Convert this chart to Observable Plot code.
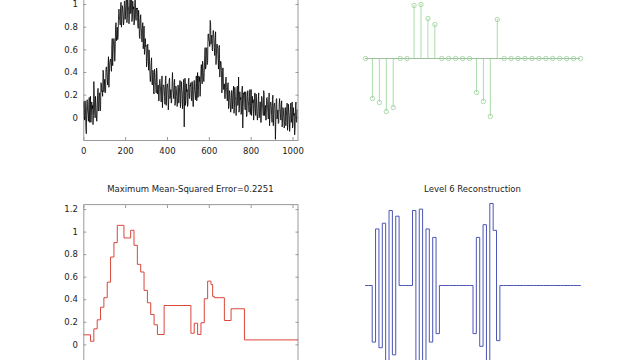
<!DOCTYPE html>
<html>
<head>
<meta charset="utf-8">
<script src="https://cdn.jsdelivr.net/npm/d3@7"></script>
<script src="https://cdn.jsdelivr.net/npm/@observablehq/plot@0.6"></script>
<style>
  html, body { margin: 0; padding: 0; background: #fff; }
  #fig { position: relative; width: 640px; height: 360px; overflow: hidden; background: #fff; font-family: "DejaVu Sans", sans-serif; }
  #fig svg { position: absolute; }
  .title { position: absolute; font-size: 8.5px; line-height: 12px; color: #222; text-align: center; white-space: nowrap; }
</style>
</head>
<body>
<div id="fig"></div>
<script>
// ---- data ----
// noisy signal, one sample every 2 points of 0..1023
const signal = [
  0.14, 0.01, -0.02, 0.15, 0.07, -0.08, -0.14, 0.10, 0.16, 0.07, 0.03, -0.03, 0.12, 0.18, -0.04, 0.03,
  0.19, -0.04, 0.02, 0.14, 0.08, 0.11, -0.06, 0.02, 0.32, 0.19, 0.06, 0.00, 0.19, 0.12, 0.02, -0.03,
  0.06, 0.20, 0.26, 0.06, 0.07, 0.22, 0.22, 0.06, 0.07, 0.31, 0.30, 0.23, 0.24, 0.19, 0.42, 0.40,
  0.23, 0.29, 0.34, 0.22, 0.23, 0.43, 0.45, 0.40, 0.34, 0.29, 0.46, 0.54, 0.27, 0.38, 0.49, 0.51,
  0.52, 0.46, 0.41, 0.64, 0.70, 0.46, 0.57, 0.67, 0.70, 0.66, 0.50, 0.60, 0.80, 0.84, 0.68, 0.73,
  0.80, 0.69, 0.72, 0.89, 0.96, 0.89, 0.86, 0.82, 0.98, 1.02, 0.80, 0.84, 0.99, 0.97, 0.91, 0.82,
  0.86, 1.03, 1.03, 0.87, 0.95, 1.01, 1.18, 0.84, 0.88, 1.06, 0.99, 0.96, 0.83, 0.90, 1.06, 1.09,
  0.92, 0.95, 1.24, 0.85, 0.88, 1.03, 0.96, 0.98, 0.82, 0.84, 1.03, 1.06, 0.89, 0.86, 0.97, 0.96,
  0.97, 0.83, 0.79, 0.95, 0.87, 0.71, 0.70, 0.87, 0.91, 0.80, 0.75, 0.67, 0.80, 0.84, 0.61, 0.66,
  0.81, 0.56, 0.60, 0.70, 0.63, 0.64, 0.45, 0.51, 0.63, 0.65, 0.50, 0.42, 0.60, 0.51, 0.39, 0.32,
  0.38, 0.49, 0.53, 0.30, 0.29, 0.42, 0.40, 0.22, 0.21, 0.43, 0.40, 0.31, 0.29, 0.22, 0.44, 0.40,
  0.21, 0.25, 0.29, 0.15, 0.15, 0.33, 0.34, 0.28, 0.21, 0.14, 0.30, 0.37, 0.09, 0.19, 0.29, 0.29,
  0.27, 0.19, 0.12, 0.33, 0.37, 0.11, 0.20, 0.29, 0.30, 0.25, 0.07, 0.15, 0.33, 0.35, 0.17, 0.20,
  0.25, 0.13, 0.14, 0.30, 0.40, 0.27, 0.22, 0.17, 0.31, 0.34, 0.11, 0.14, 0.28, 0.26, 0.19, 0.10,
  0.12, 0.29, 0.28, 0.13, 0.20, 0.27, 0.33, 0.09, 0.14, 0.32, 0.25, 0.22, 0.08, 0.15, 0.31, 0.34,
  -0.08, 0.20, 0.35, 0.11, 0.15, 0.30, 0.23, 0.25, 0.10, 0.12, 0.32, 0.35, 0.19, 0.17, 0.29, 0.28,
  0.31, 0.18, 0.15, 0.32, 0.25, 0.10, 0.10, 0.28, 0.33, 0.24, 0.21, 0.16, 0.30, 0.37, 0.15, 0.23,
  0.40, 0.18, 0.24, 0.37, 0.32, 0.36, 0.19, 0.28, 0.42, 0.47, 0.34, 0.30, 0.50, 0.45, 0.35, 0.32,
  0.40, 0.55, 0.62, 0.43, 0.45, 0.61, 0.62, 0.47, 0.49, 0.74, 0.74, 0.68, 0.68, 0.63, 0.86, 0.84,
  0.65, 0.70, 0.73, 0.60, 0.59, 0.77, 0.77, 0.70, 0.62, 0.55, 0.70, 0.76, 0.47, 0.56, 0.65, 0.65,
  0.61, 0.51, 0.43, 0.62, 0.64, 0.36, 0.43, 0.50, 0.49, 0.42, 0.22, 0.28, 0.44, 0.44, 0.25, 0.26,
  0.30, 0.17, 0.17, 0.32, 0.36, 0.27, 0.21, 0.15, 0.29, 0.31, 0.08, 0.10, 0.24, 0.22, 0.15, 0.05,
  0.08, 0.24, 0.24, 0.08, 0.15, 0.22, 0.28, 0.04, 0.09, 0.27, 0.19, 0.16, 0.02, 0.09, 0.25, 0.28,
  0.11, 0.14, 0.36, 0.05, 0.08, 0.23, 0.16, 0.18, 0.03, 0.05, 0.25, 0.28, -0.09, 0.10, 0.22, 0.21,
  0.23, 0.09, 0.07, 0.23, 0.17, 0.01, 0.02, 0.19, 0.24, 0.15, 0.11, 0.05, 0.19, 0.25, 0.03, 0.10,
  0.25, 0.02, 0.07, 0.19, 0.13, 0.16, -0.02, 0.06, 0.18, 0.22, 0.08, 0.02, 0.21, 0.14, 0.03, -0.02,
  0.04, 0.16, 0.22, 0.00, 0.01, 0.14, 0.14, -0.04, -0.04, 0.19, 0.18, 0.09, 0.08, 0.02, 0.24, 0.21,
  0.02, 0.07, 0.11, -0.02, -0.02, 0.17, 0.18, 0.12, 0.05, -0.01, 0.14, 0.22, -0.07, 0.03, 0.13, 0.14,
  0.11, 0.02, -0.04, 0.16, 0.20, -0.07, 0.03, 0.12, 0.13, 0.08, -0.19, -0.03, 0.16, 0.17, -0.01, 0.03,
  0.07, -0.05, -0.04, 0.12, 0.17, 0.09, 0.04, -0.02, 0.12, 0.15, -0.08, -0.05, 0.09, 0.07, 0.00, -0.09,
  -0.07, 0.09, 0.09, -0.07, 0.01, 0.07, 0.13, -0.11, -0.06, 0.12, 0.05, 0.02, -0.12, -0.05, 0.11, 0.13,
  -0.04, 0.00, 0.14, -0.09, -0.06, 0.09, 0.02, 0.04, -0.15, -0.09, 0.10, 0.14, -0.03, -0.04, 0.07, 0.07
];
const signalStep = 2;

// thresholded approximation (step starts and levels)
const approxX = [0, 32, 48, 64, 80, 96, 112, 128, 144, 160, 192, 224, 240, 256, 272, 288, 304, 320, 336, 352, 384,
                 512, 528, 544, 560, 576, 592, 608, 616, 624, 672, 704, 768, 1024];
const approxY = [0.089, 0.032, 0.142, 0.222, 0.334, 0.418, 0.556, 0.779, 0.907, 1.06, 0.948, 1.016, 0.883, 0.714,
                 0.646, 0.483, 0.373, 0.269, 0.178, 0.092, 0.349, 0.103, 0.192, 0.092, 0.196, 0.409, 0.565, 0.535,
                 0.43, 0.418, 0.216, 0.32, 0.044, 0.044];

// detail coefficients (32)
const coefIndex = d3.range(1, 33);
const coefs = [0, -0.40, -0.44, -0.53, -0.49, 0, 0, 0.53, 0.54, 0.40, 0.34, 0, 0, 0, 0, 0,
               -0.34, -0.43, -0.58, 0.39, 0, 0, 0, 0, 0, 0, 0, 0, 0, 0, 0, 0];

// level reconstruction: 64 half-block levels (16 samples each)
const recon = [0, 0, -0.40, 0.40, -0.44, 0.44, -0.53, 0.53, -0.49, 0.49, 0, 0, 0, 0, 0.53, -0.53,
               0.54, -0.54, 0.40, -0.40, 0.34, -0.34, 0, 0, 0, 0, 0, 0, 0, 0, 0, 0,
               -0.34, 0.34, -0.43, 0.43, -0.58, 0.58, 0.39, -0.39, 0, 0, 0, 0, 0, 0, 0, 0,
               0, 0, 0, 0, 0, 0, 0, 0, 0, 0, 0, 0, 0, 0, 0, 0];
const reconStep = 16;

const xTicks = [0, 200, 400, 600, 800, 1000];
const yTicksTop = [0, 0.2, 0.4, 0.6, 0.8, 1];
const yTicksBottom = [0, 0.2, 0.4, 0.6, 0.8, 1, 1.2];
const titleBL = "Maximum Mean-Squared Error=0.2251";
const titleBR = "Level 6 Reconstruction";

// ---- tables ----
const sigData = signal.map((v, i) => ({x: i * signalStep, y: v}));
const apxData = approxX.map((x, i) => ({x, y: approxY[i]}));
const coefData = coefIndex.map((k, i) => ({k, c: coefs[i]}));
const recData = recon.map((v, i) => ({x: i * reconStep, y: v}));
recData.push({x: recon.length * reconStep, y: recon[recon.length - 1]});

const fig = document.getElementById("fig");
const fmt = d3.format("~g");
const boxColor = "#9a9a9a";
const textColor = "#222";
const baseStyle = {fontFamily: "DejaVu Sans, sans-serif", fontSize: "8.5px", background: "transparent", overflow: "visible"};

function boxAxes(yTicks, showXLabels) {
  const marks = [
    Plot.frame({stroke: boxColor}),
    Plot.axisX({ticks: xTicks, anchor: "bottom", tickSize: 3, dy: -3, tickFormat: () => "", label: null, stroke: boxColor}),
    Plot.axisX({ticks: xTicks, anchor: "top", tickSize: 3, dy: 3, tickFormat: () => "", label: null, stroke: boxColor}),
    Plot.axisY({ticks: yTicks, tickSize: 0, tickPadding: 6, tickFormat: fmt, label: null, fill: textColor}),
    Plot.axisY({ticks: yTicks, anchor: "left", tickSize: 3, dx: 3, tickFormat: () => "", label: null, stroke: boxColor}),
    Plot.axisY({ticks: yTicks, anchor: "right", tickSize: 3, dx: -3, tickFormat: () => "", label: null, stroke: boxColor})
  ];
  if (showXLabels) marks.push(Plot.axisX({ticks: xTicks, tickSize: 0, tickPadding: 7, tickFormat: fmt, label: null, fill: textColor}));
  return marks;
}

// top-left: noisy signal
const tl = Plot.plot({
  width: 320, height: 200,
  marginLeft: 83.3, marginRight: 22.5, marginTop: 6.4, marginBottom: 30,
  x: {domain: [0, 1024]},
  y: {domain: [-0.2, 1.244]},
  style: baseStyle,
  marks: [
    ...boxAxes(yTicksTop, true),
    Plot.line(sigData, {x: "x", y: "y", stroke: "#000", strokeWidth: 0.8, clip: true})
  ]
});
tl.style.left = "0px"; tl.style.top = "-30px";
fig.appendChild(tl);

// top-right: stem plot of coefficients
const tr = Plot.plot({
  width: 320, height: 140,
  marginLeft: 45, marginRight: 60, marginTop: 0, marginBottom: 0,
  x: {domain: [1, 32], axis: null},
  y: {domain: [-0.82, 0.58], axis: null},
  style: baseStyle,
  marks: [
    Plot.ruleX(coefData, {x: "k", y1: 0, y2: "c", stroke: "#a9dca9", strokeWidth: 1}),
    Plot.ruleY([0], {stroke: "#9cbf9c", strokeWidth: 1}),
    Plot.dot(coefData, {x: "k", y: "c", r: 2.2, stroke: "#a3d6a3", strokeWidth: 0.9, fill: "none"})
  ]
});
tr.style.left = "320px"; tr.style.top = "0px";
fig.appendChild(tr);

// bottom-left: approximation
const bl = Plot.plot({
  width: 320, height: 230,
  marginLeft: 83.3, marginRight: 22.5, marginTop: 34.1, marginBottom: 33.1,
  x: {domain: [0, 1024]},
  y: {domain: [-0.2, 1.244]},
  style: baseStyle,
  marks: [
    ...boxAxes(yTicksBottom, false),
    Plot.line(apxData, {x: "x", y: "y", curve: "step-after", stroke: "#d9473b", strokeWidth: 1})
  ]
});
bl.style.left = "0px"; bl.style.top = "170px";
fig.appendChild(bl);

// bottom-right: reconstruction
const br = Plot.plot({
  width: 320, height: 200,
  marginLeft: 45, marginRight: 60, marginTop: 0, marginBottom: 0,
  x: {domain: [0, 1024], axis: null},
  y: {domain: [-0.813, 0.601], axis: null},
  style: baseStyle,
  marks: [
    Plot.line(recData, {x: "x", y: "y", curve: "step-after", stroke: "#4b55b5", strokeWidth: 1})
  ]
});
br.style.left = "320px"; br.style.top = "200px";
fig.appendChild(br);

// titles
function addTitle(text, left, width, top) {
  const d = document.createElement("div");
  d.className = "title";
  d.textContent = text;
  d.style.left = left + "px"; d.style.width = width + "px"; d.style.top = top + "px";
  fig.appendChild(d);
}
addTitle(titleBL, 83.3, 214.2, 183);
addTitle(titleBR, 365, 215, 183);
</script>
</body>
</html>
